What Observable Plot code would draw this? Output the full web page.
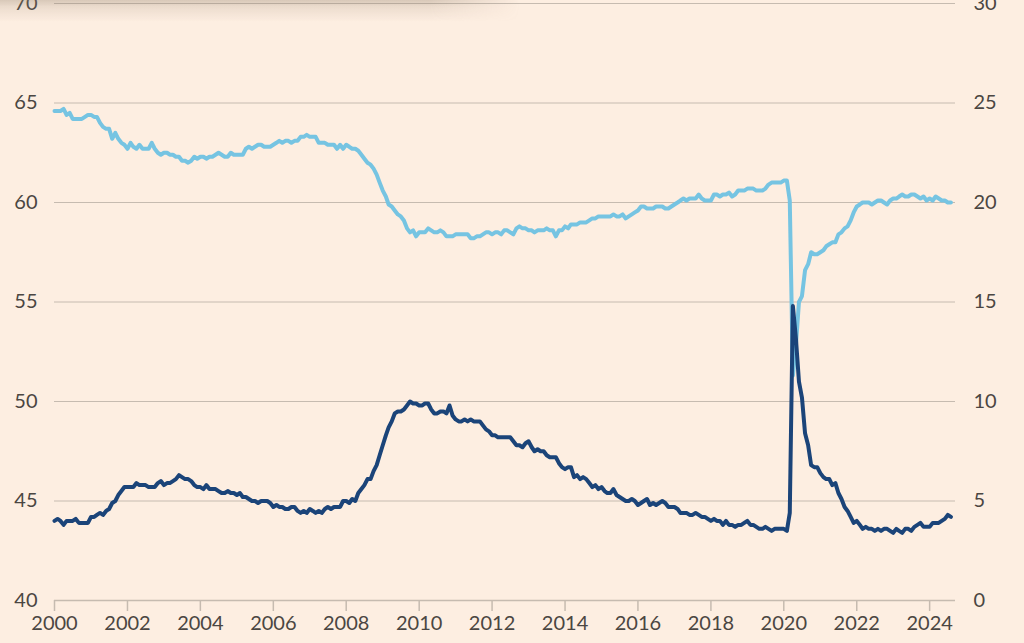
<!DOCTYPE html>
<html>
<head>
<meta charset="utf-8">
<script src="https://cdn.jsdelivr.net/npm/d3@7"></script>
<script src="https://cdn.jsdelivr.net/npm/@observablehq/plot@0.6"></script>
<style>
  html, body { margin: 0; padding: 0; background: #fdeee1; }
  body { width: 1024px; height: 643px; overflow: hidden; position: relative; }
  #chart svg { display: block; overflow: visible; }
  #shade {
    position: absolute; top: 0; left: 0; width: 520px; height: 22px; pointer-events: none;
    background: linear-gradient(to bottom, rgba(140,120,100,0.32) 0px, rgba(150,130,110,0.16) 7px, rgba(253,238,225,0) 22px);
    -webkit-mask-image: linear-gradient(to right, #000 0, #000 430px, transparent 520px);
    mask-image: linear-gradient(to right, #000 0, #000 430px, transparent 520px);
  }
</style>
</head>
<body>
<div id="chart"></div>
<div id="shade"></div>
<script>
// Monthly values, Jan..Dec for each year (2024 through August)
const years = d3.range(2000, 2025);

// Unemployment rate, % (right axis)
const unemploymentRate = [
  [4.0,4.1,4.0,3.8,4.0,4.0,4.0,4.1,3.9,3.9,3.9,3.9],
  [4.2,4.2,4.3,4.4,4.3,4.5,4.6,4.9,5.0,5.3,5.5,5.7],
  [5.7,5.7,5.7,5.9,5.8,5.8,5.8,5.7,5.7,5.7,5.9,6.0],
  [5.8,5.9,5.9,6.0,6.1,6.3,6.2,6.1,6.1,6.0,5.8,5.7],
  [5.7,5.6,5.8,5.6,5.6,5.6,5.5,5.4,5.4,5.5,5.4,5.4],
  [5.3,5.4,5.2,5.2,5.1,5.0,5.0,4.9,5.0,5.0,5.0,4.9],
  [4.7,4.8,4.7,4.7,4.6,4.6,4.7,4.7,4.5,4.4,4.5,4.4],
  [4.6,4.5,4.4,4.5,4.4,4.6,4.7,4.6,4.7,4.7,4.7,5.0],
  [5.0,4.9,5.1,5.0,5.4,5.6,5.8,6.1,6.1,6.5,6.8,7.3],
  [7.8,8.3,8.7,9.0,9.4,9.5,9.5,9.6,9.8,10.0,9.9,9.9],
  [9.8,9.8,9.9,9.9,9.6,9.4,9.4,9.5,9.5,9.4,9.8,9.3],
  [9.1,9.0,9.0,9.1,9.0,9.1,9.0,9.0,9.0,8.8,8.6,8.5],
  [8.3,8.3,8.2,8.2,8.2,8.2,8.2,8.0,7.8,7.8,7.7,7.9],
  [8.0,7.7,7.5,7.6,7.5,7.5,7.3,7.2,7.2,7.2,6.9,6.7],
  [6.6,6.7,6.7,6.2,6.3,6.1,6.2,6.1,5.9,5.7,5.8,5.6],
  [5.7,5.5,5.4,5.4,5.6,5.3,5.2,5.1,5.0,5.0,5.1,5.0],
  [4.8,4.9,5.0,5.1,4.8,4.9,4.8,4.9,5.0,4.9,4.7,4.7],
  [4.7,4.6,4.4,4.4,4.4,4.3,4.3,4.4,4.3,4.2,4.2,4.1],
  [4.0,4.1,4.0,4.0,3.8,4.0,3.8,3.8,3.7,3.8,3.8,3.9],
  [4.0,3.8,3.8,3.7,3.6,3.6,3.7,3.6,3.5,3.6,3.6,3.6],
  [3.6,3.5,4.4,14.8,13.2,11.0,10.2,8.4,7.8,6.8,6.7,6.7],
  [6.4,6.2,6.1,6.1,5.8,5.9,5.4,5.1,4.7,4.5,4.2,3.9],
  [4.0,3.8,3.6,3.7,3.6,3.6,3.5,3.6,3.5,3.6,3.6,3.5],
  [3.4,3.6,3.5,3.4,3.6,3.6,3.5,3.7,3.8,3.9,3.7,3.7],
  [3.7,3.9,3.9,3.9,4.0,4.1,4.3,4.2]
];

// Employment-population ratio, % (left axis)
const employmentRatio = [
  [64.6,64.6,64.6,64.7,64.4,64.5,64.2,64.2,64.2,64.2,64.3,64.4],
  [64.4,64.3,64.3,64.0,63.8,63.7,63.7,63.2,63.5,63.2,63.0,62.9],
  [62.7,63.0,62.8,62.7,62.9,62.7,62.7,62.7,63.0,62.7,62.5,62.4],
  [62.5,62.5,62.4,62.4,62.3,62.3,62.1,62.1,62.0,62.1,62.3,62.2],
  [62.3,62.3,62.2,62.3,62.3,62.4,62.5,62.4,62.3,62.3,62.5,62.4],
  [62.4,62.4,62.4,62.7,62.8,62.7,62.8,62.9,62.9,62.8,62.8,62.8],
  [62.9,63.0,63.1,63.0,63.1,63.1,63.0,63.1,63.1,63.3,63.3,63.4],
  [63.3,63.3,63.3,63.0,63.0,63.0,62.9,62.9,62.9,62.7,62.9,62.7],
  [62.9,62.8,62.7,62.7,62.6,62.4,62.2,62.0,61.9,61.7,61.4,61.0],
  [60.6,60.3,59.9,59.8,59.6,59.4,59.3,59.1,58.7,58.5,58.6,58.3],
  [58.5,58.5,58.5,58.7,58.6,58.5,58.5,58.6,58.5,58.3,58.3,58.3],
  [58.4,58.4,58.4,58.4,58.4,58.2,58.2,58.3,58.3,58.4,58.5,58.5],
  [58.4,58.5,58.5,58.4,58.6,58.6,58.5,58.4,58.7,58.8,58.7,58.7],
  [58.6,58.6,58.5,58.6,58.6,58.6,58.7,58.6,58.6,58.3,58.6,58.6],
  [58.8,58.7,58.9,58.9,58.9,59.0,59.0,59.0,59.1,59.2,59.2,59.3],
  [59.3,59.3,59.3,59.3,59.4,59.3,59.3,59.4,59.2,59.3,59.4,59.5],
  [59.6,59.8,59.8,59.7,59.7,59.7,59.8,59.8,59.8,59.7,59.7,59.8],
  [59.9,60.0,60.1,60.2,60.1,60.2,60.2,60.2,60.4,60.2,60.1,60.1],
  [60.1,60.4,60.4,60.3,60.4,60.4,60.5,60.3,60.4,60.6,60.6,60.6],
  [60.7,60.7,60.7,60.6,60.6,60.6,60.7,60.9,61.0,61.0,61.0,61.0],
  [61.1,61.1,60.1,51.3,52.8,55.0,55.3,56.6,56.9,57.5,57.4,57.4],
  [57.5,57.6,57.8,57.9,58.0,58.0,58.4,58.5,58.7,58.8,59.1,59.5],
  [59.8,59.9,60.0,60.0,60.0,59.9,60.0,60.1,60.1,60.0,59.9,60.1],
  [60.2,60.2,60.3,60.4,60.3,60.3,60.4,60.4,60.3,60.2,60.3,60.1],
  [60.2,60.1,60.3,60.2,60.1,60.1,60.0,60.0]
];

const leftTicks = [40, 45, 50, 55, 60, 65, 70];
const rightOffset = 40; // right axis value = left value - 40
const yearTicks = d3.range(2000, 2025, 2);

// Build tidy rows
const emp = [], unemp = [];
years.forEach((y, i) => {
  employmentRatio[i].forEach((v, m) => emp.push({date: new Date(Date.UTC(y, m, 1)), value: v}));
  unemploymentRate[i].forEach((v, m) => unemp.push({date: new Date(Date.UTC(y, m, 1)), value: v + rightOffset}));
});

const gridColor = "#c6bbb0";
const textColor = "#4b4642";

const chart = Plot.plot({
  width: 1024,
  height: 643,
  marginLeft: 54,
  marginRight: 69,
  marginTop: 3,
  marginBottom: 43,
  style: {background: "transparent", fontFamily: "Lato, 'Open Sans', sans-serif", fontSize: "20px", color: textColor},
  x: {type: "utc", domain: [new Date(Date.UTC(2000, 0, 1)), new Date(Date.UTC(2024, 8, 16))]},
  y: {domain: [40, 70]},
  marks: [
    Plot.gridY(leftTicks.filter(d => d > 40), {stroke: gridColor, strokeOpacity: 1, strokeWidth: 1}),
    Plot.axisY(leftTicks, {anchor: "left", tickSize: 0, tickPadding: 17, label: null, fill: textColor, fontSize: 20}),
    Plot.axisY(leftTicks, {anchor: "right", tickSize: 0, tickPadding: 18, label: null, fill: textColor, fontSize: 20, tickFormat: d => d - rightOffset}),
    Plot.ruleY([40], {stroke: gridColor, strokeWidth: 1.5}),
    Plot.axisX(yearTicks.map(y => new Date(Date.UTC(y, 0, 1))), {tickSize: 11, tickPadding: 4, stroke: gridColor, strokeWidth: 1.5, strokeOpacity: 1, fill: textColor, fontSize: 20, tickFormat: d3.utcFormat("%Y"), label: null}),
    Plot.line(emp, {x: "date", y: "value", stroke: "#76c4e2", strokeWidth: 4, strokeLinejoin: "round", strokeLinecap: "round"}),
    Plot.line(unemp, {x: "date", y: "value", stroke: "#1b4479", strokeWidth: 4, strokeLinejoin: "round", strokeLinecap: "round"})
  ]
});
document.getElementById("chart").appendChild(chart);
</script>
</body>
</html>
